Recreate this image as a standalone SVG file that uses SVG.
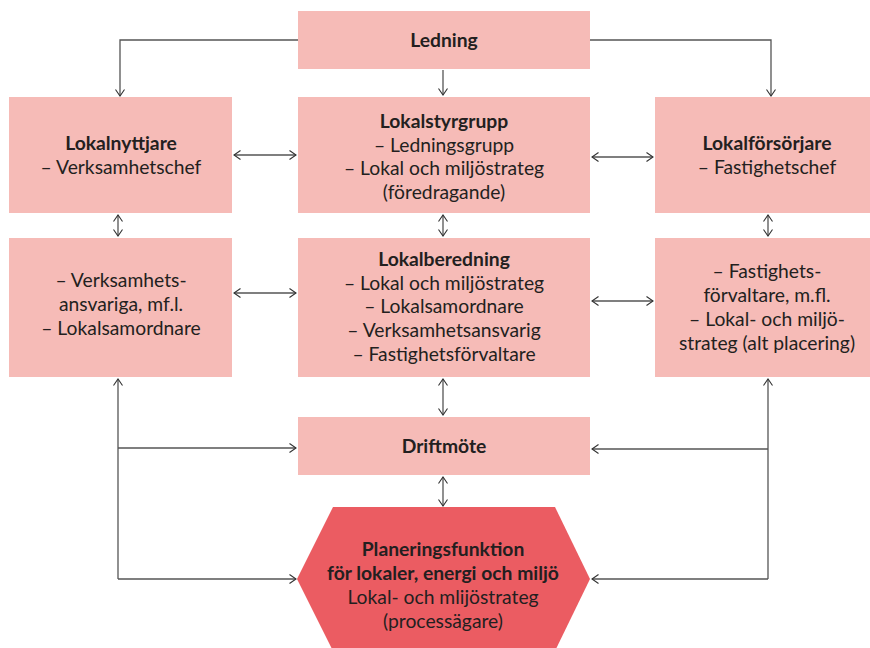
<svg xmlns="http://www.w3.org/2000/svg" width="870" height="648" viewBox="0 0 870 648">
<style>
.box{fill:#f6bbb7}
.hex{fill:#eb5c62}
text{font-family:"Lato","Liberation Sans",sans-serif;font-size:19.3px;fill:#231f20;text-anchor:middle}
.b{font-weight:bold}
.c{fill:none;stroke:#555;stroke-width:1.3}
</style>
<defs>
<marker id="ah" viewBox="0 0 8 10" refX="7" refY="5" markerWidth="8" markerHeight="10" markerUnits="userSpaceOnUse" orient="auto-start-reverse">
<path d="M0.5,0.5 L7,5 L0.5,9.5" fill="none" stroke="#333" stroke-width="1.1"/>
</marker>
</defs>
<rect width="870" height="648" fill="#fff"/>
<g id="connectors">
<path class="c" d="M298,40 H120 V96" marker-end="url(#ah)"/>
<path class="c" d="M590,40 H771 V96" marker-end="url(#ah)"/>
<path class="c" d="M443,70 V95" marker-end="url(#ah)"/>
<path class="c" d="M234,155 H296" marker-start="url(#ah)" marker-end="url(#ah)"/>
<path class="c" d="M592,157 H653" marker-start="url(#ah)" marker-end="url(#ah)"/>
<path class="c" d="M118,215 V236" marker-start="url(#ah)" marker-end="url(#ah)"/>
<path class="c" d="M443,215 V236" marker-start="url(#ah)" marker-end="url(#ah)"/>
<path class="c" d="M768,215 V236" marker-start="url(#ah)" marker-end="url(#ah)"/>
<path class="c" d="M234,293 H296" marker-start="url(#ah)" marker-end="url(#ah)"/>
<path class="c" d="M592,301 H653" marker-start="url(#ah)" marker-end="url(#ah)"/>
<path class="c" d="M443,379 V415" marker-start="url(#ah)" marker-end="url(#ah)"/>
<path class="c" d="M443,477 V506" marker-start="url(#ah)" marker-end="url(#ah)"/>
<path class="c" d="M118,579 V379" marker-end="url(#ah)"/>
<path class="c" d="M118,448 H296" marker-end="url(#ah)"/>
<path class="c" d="M118,579 H296" marker-end="url(#ah)"/>
<path class="c" d="M768,579 V379" marker-end="url(#ah)"/>
<path class="c" d="M768,449 H592" marker-end="url(#ah)"/>
<path class="c" d="M768,579 H592" marker-end="url(#ah)"/>
</g>
<g id="ledning">
<rect class="box" x="298" y="11" width="292" height="58"/>
<text class="b" x="444" y="47">Ledning</text>
</g>
<g id="lokalnyttjare">
<rect class="box" x="9" y="97" width="223" height="116"/>
<text x="121" y="150"><tspan class="b">Lokalnyttjare</tspan><tspan x="121" dy="24">– Verksamhetschef</tspan></text>
</g>
<g id="lokalstyrgrupp">
<rect class="box" x="298" y="97" width="292" height="116"/>
<text x="444" y="128"><tspan class="b">Lokalstyrgrupp</tspan><tspan x="444" dy="23.5">– Ledningsgrupp</tspan><tspan x="444" dy="23.5">– Lokal och miljöstrateg</tspan><tspan x="444" dy="23.5">(föredragande)</tspan></text>
</g>
<g id="lokalforsorjare">
<rect class="box" x="655" y="97" width="215" height="116"/>
<text x="767" y="150"><tspan class="b">Lokalförsörjare</tspan><tspan x="767" dy="24">– Fastighetschef</tspan></text>
</g>
<g id="verksamhetsansvariga">
<rect class="box" x="9" y="238" width="223" height="139"/>
<text x="121" y="287"><tspan>– Verksamhets-</tspan><tspan x="121" dy="24">ansvariga, mf.l.</tspan><tspan x="121" dy="24">– Lokalsamordnare</tspan></text>
</g>
<g id="lokalberedning">
<rect class="box" x="298" y="238" width="292" height="139"/>
<text x="444" y="266"><tspan class="b">Lokalberedning</tspan><tspan x="444" dy="23.7">– Lokal och miljöstrateg</tspan><tspan x="444" dy="23.7">– Lokalsamordnare</tspan><tspan x="444" dy="23.7">– Verksamhetsansvarig</tspan><tspan x="444" dy="23.7">– Fastighetsförvaltare</tspan></text>
</g>
<g id="fastighetsforvaltare">
<rect class="box" x="655" y="238" width="215" height="139"/>
<text x="767" y="278"><tspan>– Fastighets-</tspan><tspan x="767" dy="24">förvaltare, m.fl.</tspan><tspan x="767" dy="24">– Lokal- och miljö-</tspan><tspan x="767" dy="24">strateg (alt placering)</tspan></text>
</g>
<g id="driftmote">
<rect class="box" x="298" y="417" width="292" height="58"/>
<text class="b" x="444" y="453">Driftmöte</text>
</g>
<g id="planeringsfunktion">
<polygon class="hex" points="333,507 555,507 590,579 555,651 333,651 297,579"/>
<text x="443" y="556"><tspan class="b">Planeringsfunktion</tspan><tspan class="b" x="443" dy="24">för lokaler, energi och miljö</tspan><tspan x="443" dy="24">Lokal- och mlijöstrateg</tspan><tspan x="443" dy="24">(processägare)</tspan></text>
</g>
</svg>
